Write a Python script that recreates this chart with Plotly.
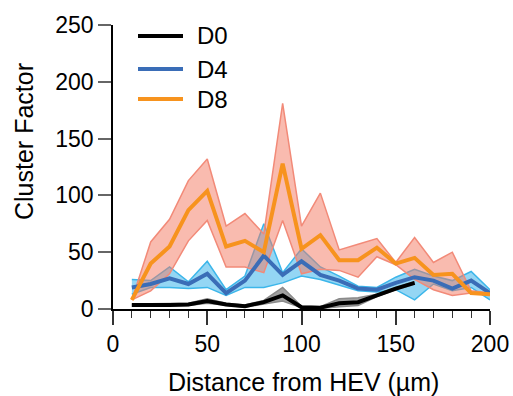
import plotly.graph_objects as go

distance = [10, 20, 30, 40, 50, 60, 70, 80, 90, 100, 110, 120, 130, 140, 150, 160, 170, 180, 190, 200]

d0_x = distance[:16]
d0_mean = [3.5, 3.3, 3.5, 4, 7, 4, 2.5, 6, 12, 1.5, 1.2, 5, 6, 12, 18, 23]
d0_upper = [4.5, 4.5, 4.5, 5, 9, 5, 3.5, 7.5, 19, 2.5, 2, 9, 10, 13, 19, 24]
d0_lower = [2.5, 2.5, 2.5, 3, 5, 3, 1.5, 4.5, 7, 1, 0.5, 2, 3, 11, 17, 22]

d4_mean = [19, 22, 27, 22, 31, 14, 25, 47, 30, 42, 30, 25, 18, 17, 23, 28, 25, 18, 25, 14]
d4_upper = [26, 25, 37, 24, 42, 17, 29, 75, 32, 53, 37, 29, 20, 19, 28, 35, 29, 25, 33, 17]
d4_lower = [13, 19, 19, 18, 19, 12, 19, 19, 23, 29, 26, 21, 16, 15, 17, 8, 22, 16, 19, 8]

d8_mean = [8, 40, 55, 87, 104, 55, 60, 50, 128, 53, 65, 43, 43, 54, 40, 45, 30, 31, 14, 13]
d8_upper = [8, 59, 79, 113, 132, 73, 84, 66, 181, 73, 102, 52, 57, 62, 41, 63, 41, 50, 16, 14]
d8_lower = [8, 16, 31, 60, 78, 37, 37, 32, 78, 31, 35, 34, 28, 46, 39, 26, 17, 12, 14, 12]

series_names = ["D0", "D4", "D8"]
line_colors = ["#000000", "#3A6DB7", "#F7931E"]

fig = go.Figure()

def band(x, lo, hi, edge, fill):
    fig.add_trace(go.Scatter(x=x, y=lo, mode="lines", line=dict(color=edge, width=1.5),
                             showlegend=False, hoverinfo="skip"))
    fig.add_trace(go.Scatter(x=x, y=hi, mode="lines", line=dict(color=edge, width=1.5),
                             fill="tonexty", fillcolor=fill, showlegend=False, hoverinfo="skip"))

band(distance, d4_lower, d4_upper, "#3CB6EA", "rgba(60,180,235,0.55)")
band(distance, d8_lower, d8_upper, "#F28A78", "rgba(243,120,95,0.5)")
band(d0_x, d0_lower, d0_upper, "#8A8A8A", "rgba(130,130,130,0.75)")

for name, x, y, c in zip(series_names, [d0_x, distance, distance],
                         [d0_mean, d4_mean, d8_mean], line_colors):
    fig.add_trace(go.Scatter(x=x, y=y, mode="lines", name=name,
                             line=dict(color=c, width=4), showlegend=False))

# manual legend
leg_y = [36, 69, 99]
H = 396
for name, c, ly in zip(series_names, line_colors, leg_y):
    fig.add_shape(type="line", xref="paper", yref="paper",
                  x0=(138 - 113) / 377, x1=(183 - 113) / 377,
                  y0=(H - ly - 87) / 284, y1=(H - ly - 87) / 284,
                  line=dict(color=c, width=4))
    fig.add_annotation(text=name, xref="paper", yref="paper",
                       x=(195 - 113) / 377, y=(H - ly - 87) / 284,
                       xanchor="left", yanchor="middle", showarrow=False,
                       font=dict(size=24, color="#000"))

fig.add_annotation(text="Cluster Factor", xref="paper", yref="paper",
                   x=(24 - 113) / 377, y=(H - 142 - 87) / 284, textangle=-90,
                   xanchor="center", yanchor="middle", showarrow=False,
                   font=dict(size=25, color="#000"))
fig.add_annotation(text="Distance from HEV (µm)", xref="paper", yref="paper",
                   x=(303 - 113) / 377, y=(H - 382 - 87) / 284,
                   xanchor="center", yanchor="middle", showarrow=False,
                   font=dict(size=25, color="#000"))

fig.update_layout(
    width=513, height=396,
    margin=dict(l=113, r=23, t=25, b=87, autoexpand=False),
    plot_bgcolor="white", paper_bgcolor="white",
    font=dict(family="Liberation Sans, Arial, sans-serif", color="#000"),
    showlegend=False,
)
fig.update_xaxes(range=[0, 200], tickvals=[0, 50, 100, 150, 200], ticks="outside",
                 ticklen=14, tickwidth=1.5, tickcolor="#333", showline=True,
                 linecolor="#000", linewidth=1.5, showgrid=False, zeroline=False,
                 tickfont=dict(size=23), automargin=False,
                 minor=dict(dtick=10, ticks="outside", ticklen=7, tickwidth=1.2,
                            tickcolor="#333", showgrid=False))
fig.update_yaxes(range=[0, 250], tickvals=[0, 50, 100, 150, 200, 250], ticks="outside",
                 ticklen=13, tickwidth=1.5, tickcolor="#666", showline=True,
                 linecolor="#000", linewidth=1.5, showgrid=False, zeroline=False,
                 tickfont=dict(size=23), automargin=False)

fig.write_html("out.html")
